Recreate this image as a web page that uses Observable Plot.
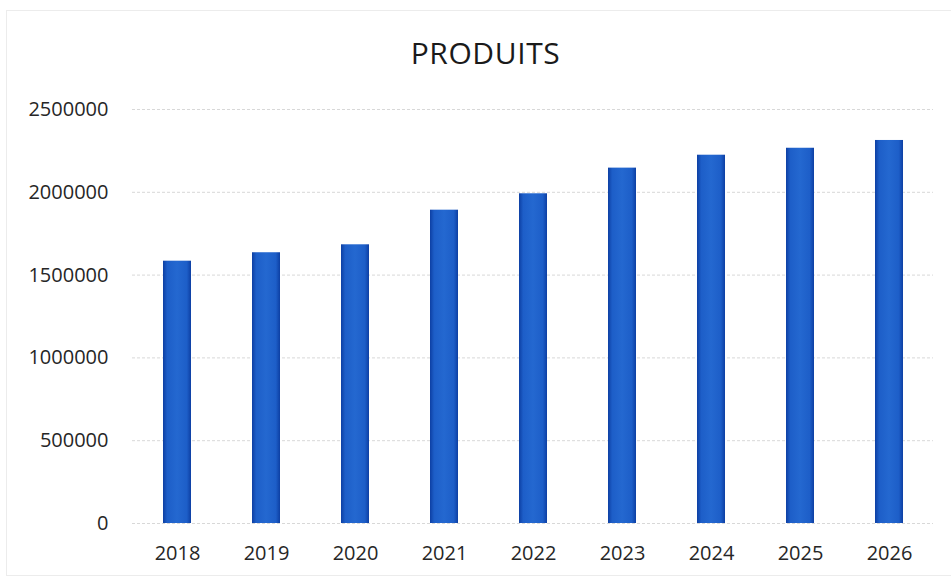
<!DOCTYPE html>
<html>
<head>
<meta charset="utf-8">
<script src="https://cdn.jsdelivr.net/npm/d3@7"></script>
<script src="https://cdn.jsdelivr.net/npm/@observablehq/plot@0.6"></script>
<style>
  html, body { margin: 0; padding: 0; background: #fff; }
  #wrap { position: relative; width: 951px; height: 579px; overflow: hidden; font-family: "Open Sans", sans-serif; }
  #frame { position: absolute; left: 6px; top: 10px; width: 960px; height: 566px; border: 1px solid #ececec; box-sizing: border-box; }
  #title { position: absolute; left: 0; top: 0; width: 951px; height: 90px; box-sizing: border-box; padding-left: 20px; text-align: center; font-size: 30px; line-height: 106px; color: #1a1a1a; letter-spacing: 0.6px; }
  #chart { position: absolute; left: 0; top: 90px; }
</style>
</head>
<body>
<div id="wrap">
  <div id="frame"></div>
  <div id="title">PRODUITS</div>
  <div id="chart"></div>
</div>
<script>
const years = ["2018", "2019", "2020", "2021", "2022", "2023", "2024", "2025", "2026"];
const produits = [1584000, 1635000, 1683000, 1892000, 1991000, 2146000, 2224000, 2266000, 2313000];
const yTicks = [0, 500000, 1000000, 1500000, 2000000, 2500000];

const data = years.map((y, i) => ({ year: y, value: produits[i] }));

const plot = Plot.plot({
  width: 951,
  height: 489,
  marginTop: 19,
  marginBottom: 56,
  marginLeft: 132,
  marginRight: 18,
  style: { fontFamily: "Open Sans, sans-serif", fontSize: "20px", color: "#262626", background: "transparent" },
  x: { domain: years, paddingInner: 0.69, paddingOuter: 0.345, label: null, tickSize: 0, tickPadding: 22 },
  y: { domain: [0, 2500000], ticks: yTicks, label: null, tickSize: 0, tickPadding: 24, tickFormat: d => String(d) },
  marks: [
    Plot.gridY(yTicks, { stroke: "#d8d8d8", strokeOpacity: 1, strokeDasharray: "3,2", strokeWidth: 1 }),
    Plot.barY(data, { x: "year", y: "value", fill: "url(#barGrad)" })
  ]
});

const svg = d3.select(plot);
const defs = svg.insert("defs", ":first-child");
const g = defs.append("linearGradient").attr("id", "barGrad").attr("x1", "0").attr("x2", "1").attr("y1", "0").attr("y2", "0");
g.append("stop").attr("offset", "0%").attr("stop-color", "#0d3fa3");
g.append("stop").attr("offset", "15%").attr("stop-color", "#1d5ec8");
g.append("stop").attr("offset", "50%").attr("stop-color", "#2468d0");
g.append("stop").attr("offset", "85%").attr("stop-color", "#1d5ec8");
g.append("stop").attr("offset", "100%").attr("stop-color", "#0d3fa3");

document.getElementById("chart").appendChild(plot);
</script>
</body>
</html>
